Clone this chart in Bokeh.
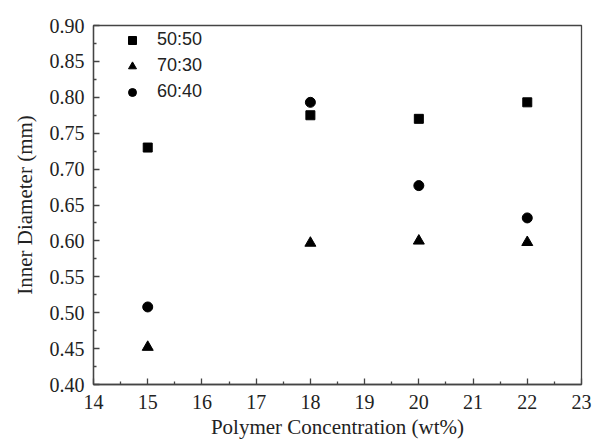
from bokeh.plotting import figure
from bokeh.models import Range1d, Legend, LegendItem, FixedTicker, CustomJSTickFormatter
from bokeh.embed import file_html
from bokeh.resources import INLINE

conc = [15, 18, 20, 22]
s5050 = [0.730, 0.775, 0.770, 0.793]
s7030 = [0.452, 0.597, 0.600, 0.598]
s6040 = [0.508, 0.793, 0.677, 0.632]
series_names = ["50:50", "70:30", "60:40"]
x_ticks = [14, 15, 16, 17, 18, 19, 20, 21, 22, 23]
y_ticks = [0.40, 0.45, 0.50, 0.55, 0.60, 0.65, 0.70, 0.75, 0.80, 0.85, 0.90]

p = figure(width=594, height=448, output_backend="svg", toolbar_location=None,
           x_range=Range1d(14, 23), y_range=Range1d(0.40, 0.90),
           min_border_left=93, min_border_right=13, min_border_top=25, min_border_bottom=64)
p.grid.visible = False
p.outline_line_color = "#444444"
p.outline_line_width = 1.3
p.background_fill_color = "white"
p.border_fill_color = "white"

r1 = p.scatter(conc, s5050, marker="square", size=9, color="black")
r2 = p.scatter(conc, s7030, marker="triangle", size=11, color="black")
r3 = p.scatter(conc, s6040, marker="circle", size=10, color="black")

serif = "Liberation Serif"
p.xaxis.major_label_text_font = serif
p.yaxis.major_label_text_font = serif
p.xaxis.major_label_text_font_size = "20px"
p.yaxis.major_label_text_font_size = "20px"
p.xaxis.major_label_text_color = "#222222"
p.yaxis.major_label_text_color = "#222222"
for ax in (p.xaxis[0], p.yaxis[0]):
    ax.axis_line_color = "#444444"
    ax.axis_line_width = 1.3
    ax.major_tick_line_color = "#444444"
    ax.minor_tick_line_color = "#444444"
    ax.major_tick_line_width = 1.3
    ax.minor_tick_line_width = 1.3
    ax.major_tick_in = 6
    ax.major_tick_out = 0
    ax.minor_tick_in = 3
    ax.minor_tick_out = 0
    ax.axis_label_text_font = serif
    ax.axis_label_text_font_size = "21px"
    ax.axis_label_text_font_style = "normal"
    ax.axis_label_text_color = "#222222"

p.xaxis.ticker = FixedTicker(ticks=x_ticks, minor_ticks=[t + 0.5 for t in x_ticks[:-1]])
p.yaxis.ticker = FixedTicker(ticks=y_ticks, minor_ticks=[round(t + 0.025, 3) for t in y_ticks[:-1]])
p.yaxis.formatter = CustomJSTickFormatter(code="return tick.toFixed(2);")
p.xaxis.axis_label = "Polymer Concentration (wt%)"
p.yaxis.axis_label = "Inner Diameter (mm)"
p.xaxis.major_label_standoff = 10
p.yaxis.major_label_standoff = 9
p.xaxis.axis_label_standoff = 3
p.yaxis.axis_label_standoff = 10

legend = Legend(items=[LegendItem(label=series_names[0], renderers=[r1]),
                       LegendItem(label=series_names[1], renderers=[r2]),
                       LegendItem(label=series_names[2], renderers=[r3])],
                location=(29, 282))
legend.label_text_font = "Liberation Sans"
legend.label_text_font_size = "18px"
legend.label_text_color = "#222222"
legend.border_line_color = None
legend.background_fill_alpha = 0
legend.glyph_width = 20
legend.glyph_height = 20
legend.label_standoff = 15
legend.spacing = 5
legend.padding = 4
legend.margin = 0
legend.label_height = 20
p.add_layout(legend)

open("out.html", "w").write(file_html(p, INLINE))
